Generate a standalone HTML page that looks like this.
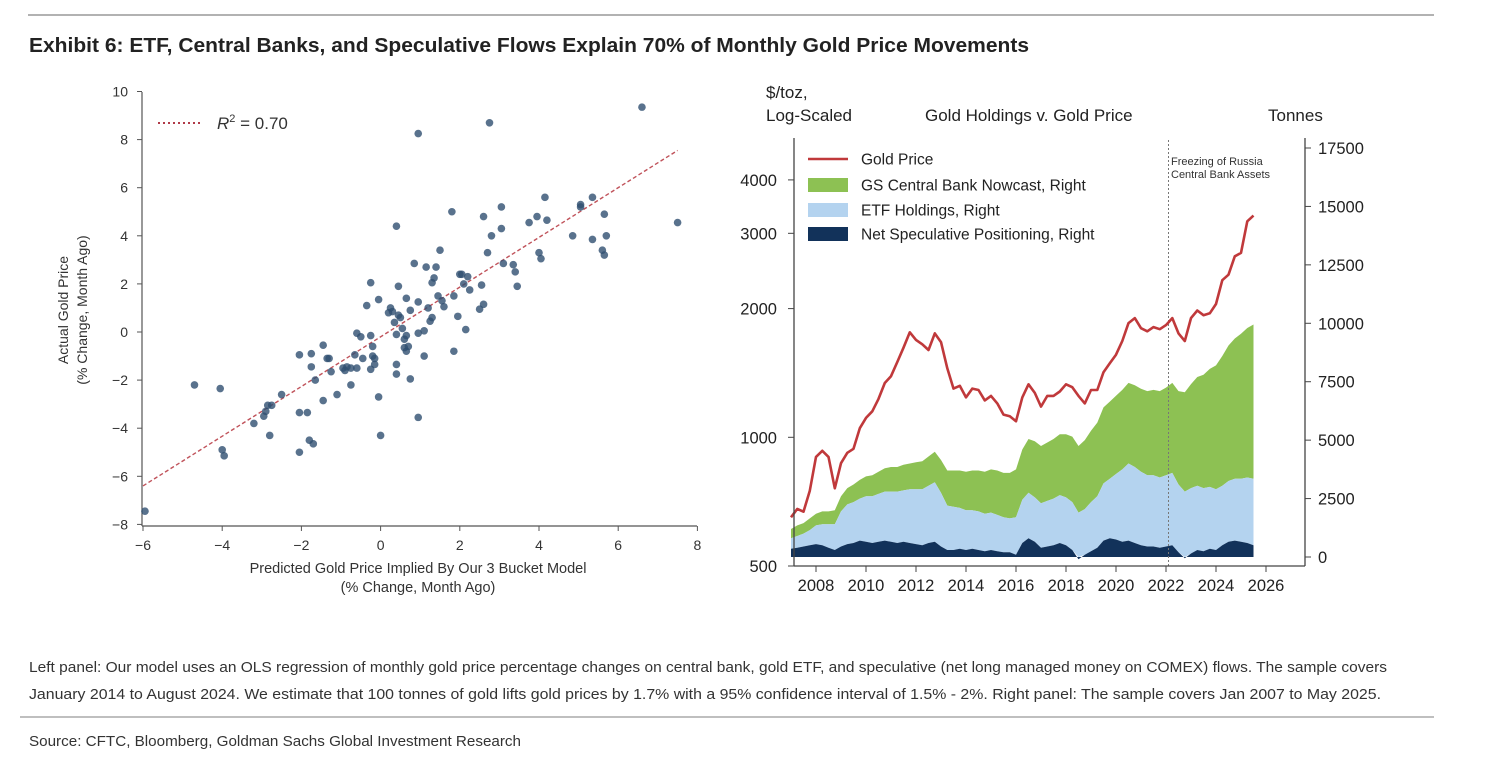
<!DOCTYPE html>
<html><head><meta charset="utf-8"><style>
body{margin:0;background:#fff;}
svg{display:block;font-family:"Liberation Sans",Arial,sans-serif;}
</style></head><body>
<svg id="s" width="1486" height="760" viewBox="0 0 1486 760">
<line x1="28" y1="15" x2="1434" y2="15" stroke="#999" stroke-width="1.5"/>
<text x="29" y="52" font-size="20" font-weight="bold" fill="#222" textLength="1000" lengthAdjust="spacingAndGlyphs">Exhibit 6: ETF, Central Banks, and Speculative Flows Explain 70% of Monthly Gold Price Movements</text>
<g id="left"></g>
<g id="right"></g>
<text x="29" y="672" font-size="15" fill="#333" textLength="1358" lengthAdjust="spacingAndGlyphs">Left panel: Our model uses an OLS regression of monthly gold price percentage changes on central bank, gold ETF, and speculative (net long managed money on COMEX) flows. The sample covers</text>
<text x="29" y="699" font-size="15" fill="#333" textLength="1352" lengthAdjust="spacingAndGlyphs">January 2014 to August 2024. We estimate that 100 tonnes of gold lifts gold prices by 1.7% with a 95% confidence interval of 1.5% - 2%. Right panel: The sample covers Jan 2007 to May 2025.</text>
<line x1="20" y1="717" x2="1434" y2="717" stroke="#aaa" stroke-width="1.5"/>
<text x="29" y="746" font-size="15" fill="#333" textLength="492" lengthAdjust="spacingAndGlyphs">Source: CFTC, Bloomberg, Goldman Sachs Global Investment Research</text>
</svg>
<script>
// ---------- Left panel data ----------
const scatterX = [-5.95,-4.7,-4.05,-4.0,-3.95,-3.2,-2.95,-2.9,-2.85,-2.75,-2.8,-2.5,-2.05,-2.05,-2.05,-1.85,-1.8,-1.7,-1.75,-1.75,-1.65,-1.45,-1.45,-1.35,-1.3,-1.25,-1.1,-0.95,-0.9,-0.85,-0.75,-0.75,-0.65,-0.6,-0.6,-0.5,-0.45,-0.35,-0.25,-0.25,-0.2,-0.2,-0.15,-0.15,-0.25,-0.05,-0.05,0.0,0.2,0.25,0.3,0.35,0.4,0.4,0.4,0.4,0.45,0.45,0.5,0.55,0.6,0.6,0.65,0.65,0.7,0.65,0.75,0.75,0.85,0.95,0.95,0.95,1.1,1.1,1.15,1.2,1.25,1.3,1.3,1.35,1.4,1.45,1.5,1.55,1.6,1.8,1.85,1.85,1.95,2.0,2.05,2.1,2.15,2.2,2.25,2.5,2.55,2.6,2.6,2.7,2.75,2.8,3.05,3.05,3.1,3.35,3.4,3.45,3.75,3.95,4.0,4.05,4.15,4.2,4.85,5.05,5.05,5.35,5.35,5.6,5.65,5.65,5.7,6.6,7.5,0.95];
const scatterY = [-7.45,-2.2,-2.35,-4.9,-5.15,-3.8,-3.5,-3.3,-3.05,-3.05,-4.3,-2.6,-0.95,-3.35,-5.0,-3.35,-4.5,-4.65,-0.9,-1.45,-2.0,-0.55,-2.85,-1.1,-1.1,-1.65,-2.6,-1.5,-1.6,-1.45,-1.5,-2.2,-0.95,-1.5,-0.05,-0.2,-1.1,1.1,2.05,-0.15,-0.6,-1.0,-1.1,-1.35,-1.55,1.35,-2.7,-4.3,0.8,1.0,0.85,0.4,4.4,-0.1,-1.35,-1.75,1.9,0.7,0.6,0.15,-0.3,-0.65,-0.8,-0.15,-0.6,1.4,0.9,-1.95,2.85,1.25,-0.05,-3.55,0.05,-1.0,2.7,1.0,0.45,2.05,0.6,2.25,2.7,1.5,3.4,1.3,1.05,5.0,1.5,-0.8,0.65,2.4,2.4,2.0,0.1,2.3,1.75,0.95,1.95,1.15,4.8,3.3,8.7,4.0,5.2,4.3,2.85,2.8,2.5,1.9,4.55,4.8,3.3,3.05,5.6,4.65,4.0,5.3,5.2,5.6,3.85,3.4,3.2,4.9,4.0,9.35,4.55,8.25];
const fitX = [-6, 7.5];
const fitY = [-6.4, 7.55];
const leftXTicks = [-6,-4,-2,0,2,4,6,8];
const leftYTicks = [10,8,6,4,2,0,-2,-4,-6,-8];

// ---------- Right panel data (quarterly, 2007.0 - 2025.5) ----------
const startYear = 2007, stepYear = 0.25;
const goldPrice = [650,680,670,750, 900,930,900,760, 870,920,940,1050, 1110,1150,1230,1340, 1390,1500,1620,1760, 1690,1650,1600,1750, 1670,1450,1300,1320, 1240,1300,1290,1220, 1250,1200,1130,1120, 1090,1240,1330,1270, 1180,1250,1250,1280, 1330,1310,1250,1200, 1290,1290,1420,1490, 1560,1680,1850,1900, 1800,1770,1810,1790, 1830,1900,1750,1680, 1900,1980,1930,1950, 2050,2330,2400,2650, 2700,3200,3300];
const specPos = [350,400,450,500, 550,500,400,300, 450,550,600,700, 650,600,650,700, 650,600,650,600, 550,500,600,650, 450,300,300,350, 300,350,300,250, 300,250,200,200, 100,600,800,650, 400,450,500,600, 500,300,-100,100, 250,400,700,800, 750,650,700,600, 500,450,450,400, 450,500,200,-50, 150,300,250,350, 300,500,650,700, 650,600,500];
const etfHold = [450,500,550,650, 800,900,1000,1100, 1500,1700,1750,1800, 1950,2000,2050,2100, 2150,2200,2200,2300, 2350,2400,2450,2550, 2300,1900,1850,1750, 1700,1650,1650,1600, 1600,1550,1500,1450, 1600,1850,1950,1900, 1900,1950,2000,2050, 2050,2050,2000,1950, 2100,2200,2450,2550, 2800,3100,3300,3250, 3150,3050,3050,3000, 3050,3100,2900,2850, 2800,2750,2700,2650, 2600,2550,2600,2650, 2700,2800,2850];
const cbNowcast = [400,450,450,500, 500,550,550,600, 650,700,750,800, 850,900,950,1000, 1050,1050,1100,1100, 1150,1200,1250,1300, 1400,1500,1550,1600, 1650,1700,1750,1800, 1850,1900,1900,1950, 2050,2150,2300,2400, 2450,2500,2550,2600, 2700,2800,2850,2950, 3050,3150,3250,3300, 3350,3400,3450,3500, 3550,3600,3650,3700, 3750,3850,4000,4250, 4450,4650,4850,5050, 5300,5550,5800,6000, 6200,6400,6600];
const yearTicks = [2008,2010,2012,2014,2016,2018,2020,2022,2024,2026];
const priceTicks = [500,1000,2000,3000,4000];
const tonneTicks = [0,2500,5000,7500,10000,12500,15000,17500];
const eventYear = 2022.1;

const NS='http://www.w3.org/2000/svg';
function mk(tag, attrs, parent, txt){const e=document.createElementNS(NS,tag);for(const k in attrs)e.setAttribute(k,attrs[k]);if(txt!==undefined)e.textContent=txt;parent.appendChild(e);return e;}

// ---------- Left panel ----------
const L=document.getElementById('left');
const lx=v=>143+(v+6)*39.6;
const ly=v=>332-v*24.05;
let e;
e=mk('line',{x1:142,y1:92,x2:142,y2:526,stroke:'#555','stroke-width':1.2},L);


e=mk('line',{x1:142,y1:526,x2:697,y2:526,stroke:'#555','stroke-width':1.2},L);


leftYTicks.forEach(t=>{
  mk('line',{x1:137,y1:ly(t),x2:142,y2:ly(t),stroke:'#555'},L);
  e=mk('text',{x:128,y:ly(t)+5,'font-size':14,fill:'#333','text-anchor':'end'},L,(t<0?'\u2212':'')+Math.abs(t));
  
  
});
leftXTicks.forEach(t=>{
  mk('line',{x1:lx(t),y1:526,x2:lx(t),y2:531,stroke:'#555'},L);
  e=mk('text',{x:lx(t),y:550,'font-size':14,fill:'#333','text-anchor':'middle'},L,(t<0?'\u2212':'')+Math.abs(t));
  
  
});
e=mk('line',{x1:lx(fitX[0]),y1:ly(fitY[0]),x2:lx(fitX[1]),y2:ly(fitY[1]),stroke:'#c0525a','stroke-width':1.4,'stroke-dasharray':'4,2.5'},L);


scatterX.forEach((x,i)=>{
  e=mk('circle',{cx:lx(x),cy:ly(scatterY[i]),r:3.8,fill:'#2f4f70','fill-opacity':0.8},L);
  
  
});
e=mk('line',{x1:158,y1:123,x2:203,y2:123,stroke:'#b03a48','stroke-width':2,'stroke-dasharray':'2,3'},L);


e=mk('text',{x:217,y:129,'font-size':17,fill:'#333'},L);


e.innerHTML='<tspan font-style="italic">R</tspan><tspan font-size="11" dy="-7">2</tspan><tspan dy="7"> = 0.70</tspan>';
e=mk('text',{x:418,y:573,'font-size':14.5,fill:'#333','text-anchor':'middle'},L,'Predicted Gold Price Implied By Our 3 Bucket Model');


e=mk('text',{x:418,y:592,'font-size':14.5,fill:'#333','text-anchor':'middle'},L,'(% Change, Month Ago)');


e=mk('text',{x:0,y:0,'font-size':14,fill:'#333','text-anchor':'middle',transform:'translate(68,310) rotate(-90)'},L,'Actual Gold Price');


e=mk('text',{x:0,y:0,'font-size':14,fill:'#333','text-anchor':'middle',transform:'translate(87,310) rotate(-90)'},L,'(% Change, Month Ago)');



// ---------- Right panel ----------
const R=document.getElementById('right');
const rx=yr=>816+(yr-2008)*25;
const py=p=>566-Math.log2(p/500)*128.7;
const ty=t=>557-t*(557-148)/17500;
const yrs=goldPrice.map((_,i)=>startYear+i*stepYear);
function band(lower,upper,fill,name){
  let d='M'+yrs.map((y,i)=>rx(y).toFixed(1)+','+ty(upper[i]).toFixed(1)).join('L');
  for(let i=yrs.length-1;i>=0;i--) d+='L'+rx(yrs[i]).toFixed(1)+','+ty(lower[i]).toFixed(1);
  const p=mk('path',{d:d+'Z',fill:fill},R);
  
  
}
const zero=yrs.map(()=>0);
const top1=specPos.map((v,i)=>v+etfHold[i]);
const top2=top1.map((v,i)=>v+cbNowcast[i]);
const etfBase=specPos.map(v=>Math.max(v,0));
band(top1,top2,'#8dc153','cb-nowcast-area');
band(etfBase,top1,'#b4d3ef','etf-holdings-area');
band(zero,specPos,'#12325a','net-spec-area');
e=mk('line',{x1:rx(eventYear),y1:140,x2:rx(eventYear),y2:566,stroke:'#777','stroke-width':1,'stroke-dasharray':'2,2'},R);


e=mk('path',{d:'M'+yrs.map((y,i)=>rx(y).toFixed(1)+','+py(goldPrice[i]).toFixed(1)).join('L'),fill:'none',stroke:'#c0393b','stroke-width':2.6,'stroke-linejoin':'round'},R);


// axes
e=mk('line',{x1:794,y1:138,x2:794,y2:566,stroke:'#444','stroke-width':1.3},R);


e=mk('line',{x1:794,y1:566,x2:1305,y2:566,stroke:'#444','stroke-width':1.3},R);


e=mk('line',{x1:1305,y1:138,x2:1305,y2:566,stroke:'#444','stroke-width':1.3},R);


priceTicks.forEach(t=>{
  mk('line',{x1:788,y1:py(t),x2:794,y2:py(t),stroke:'#444'},R);
  e=mk('text',{x:777,y:py(t)+6,'font-size':16.5,fill:'#222','text-anchor':'end'},R,String(t));
  
  
});
tonneTicks.forEach(t=>{
  mk('line',{x1:1305,y1:ty(t),x2:1311,y2:ty(t),stroke:'#444'},R);
  e=mk('text',{x:1318,y:ty(t)+6,'font-size':16.5,fill:'#222'},R,String(t));
  
  
});
yearTicks.forEach(t=>{
  mk('line',{x1:rx(t),y1:566,x2:rx(t),y2:572,stroke:'#444'},R);
  e=mk('text',{x:rx(t),y:591,'font-size':16.5,fill:'#222','text-anchor':'middle'},R,String(t));
  
  
});
[['$/toz,',766,98,'price-axis-unit'],['Log-Scaled',766,121,'price-axis-scale'],['Gold Holdings v. Gold Price',925,121,'right-chart-title'],['Tonnes',1268,121,'tonnes-axis-unit']].forEach(a=>{
  e=mk('text',{x:a[1],y:a[2],'font-size':17,fill:'#222'},R,a[0]);
  
  
});
e=mk('text',{x:1171,y:165,'font-size':11,fill:'#333'},R,'Freezing of Russia');


e=mk('text',{x:1171,y:178,'font-size':11,fill:'#333'},R,'Central Bank Assets');


// legend
e=mk('line',{x1:808,y1:159,x2:848,y2:159,stroke:'#c0393b','stroke-width':2.6},R);


[['#8dc153',185,'legend-cb-swatch'],['#b4d3ef',210,'legend-etf-swatch'],['#12325a',234,'legend-spec-swatch']].forEach(a=>{
  e=mk('rect',{x:808,y:a[1]-7,width:40,height:14,fill:a[0]},R);
  
  
});
[['Gold Price',159,'legend-gold-price'],['GS Central Bank Nowcast, Right',185,'legend-cb'],['ETF Holdings, Right',210,'legend-etf'],['Net Speculative Positioning, Right',234,'legend-spec']].forEach(a=>{
  e=mk('text',{x:861,y:a[1]+5.5,'font-size':15.5,fill:'#222'},R,a[0]);
  
  
});
</script>
</body></html>
